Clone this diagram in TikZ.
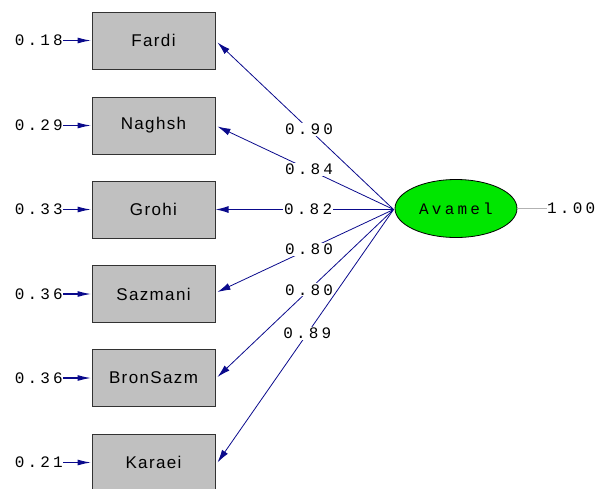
\documentclass[tikz,border=0pt]{standalone}
\usepackage{fontspec}
\usetikzlibrary{arrows.meta,calc,shapes.geometric}
\newfontfamily\numfont[LetterSpace=20]{Liberation Mono}
\newfontfamily\boxfont[LetterSpace=8]{Liberation Sans}
\definecolor{pathblue}{RGB}{10,10,140}
\definecolor{boxgray}{RGB}{192,192,192}
\definecolor{boxedge}{RGB}{50,50,50}
\definecolor{latgreen}{RGB}{0,230,0}
\tikzset{
  obsbox/.style={draw=boxedge,line width=1pt,fill=boxgray,minimum width=123pt,minimum height=57pt,inner sep=0pt,font=\boxfont\fontsize{17}{17}\selectfont},
  latent/.style={ellipse,draw=black,line width=0.8pt,fill=latgreen,minimum width=122pt,minimum height=58pt,inner sep=0pt,font=\numfont\fontsize{16}{16}\selectfont},
  coef/.style={fill=white,inner sep=1pt,font=\numfont\fontsize{16}{16}\selectfont},
  errlab/.style={inner sep=0pt,anchor=east,font=\numfont\fontsize{16}{16}\selectfont},
  loading/.style={draw=pathblue,line width=0.8pt,-{Latex[length=13pt,width=7pt]}},
  errarrow/.style={draw=pathblue,line width=1.5pt,-{Latex[length=14pt,width=6pt]}}
}
\begin{document}
\begin{tikzpicture}[x=1pt,y=-1pt]
\useasboundingbox (0,0) rectangle (600,488);
\clip (0,0) rectangle (600,488);
\node[obsbox] (fardi) at (153.5,40.5) {Fardi};
\node[obsbox] (naghsh) at (153.5,125.5) {Naghsh};
\node[obsbox] (grohi) at (153.5,209.5) {Grohi};
\node[obsbox] (sazmani) at (153.5,294) {Sazmani};
\node[obsbox] (bron) at (153.5,378) {BronSazm};
\node[obsbox] (karaei) at (153.5,462.5) {Karaei};
\node[latent] (avamel) at (456,208.5) {Avamel};
\node[errlab] (e1) at (63,40.5) {0.18};
\node[errlab] (e2) at (63,125.5) {0.29};
\node[errlab] (e3) at (63,209.5) {0.33};
\node[errlab] (e4) at (63,294) {0.36};
\node[errlab] (e5) at (63,378) {0.36};
\node[errlab] (e6) at (63,462.5) {0.21};
\foreach \e/\b in {e1/fardi,e2/naghsh,e3/grohi,e4/sazmani,e5/bron,e6/karaei}
  \draw[errarrow] (\e.east) -- (\b.west);
\node[errlab,anchor=west] (r) at (547,208.5) {1.00};
\draw[draw=gray!60,line width=1pt] (avamel.east) -- (r.west);
\coordinate (src) at ($(avamel.west)+(-1,1)$);
\draw[loading] (src) -- node[coef,pos=0.48] {0.90} ($(fardi.east)+(2,2)$);
\draw[loading] (src) -- node[coef,pos=0.48] {0.84} ($(naghsh.east)+(2,1)$);
\draw[loading,line width=1.3pt] (src) -- node[coef,pos=0.48] {0.82} (grohi.east);
\draw[loading] (src) -- node[coef,pos=0.48] {0.80} ($(sazmani.east)+(2,-2)$);
\draw[loading] (src) -- node[coef,pos=0.48] {0.80} ($(bron.east)+(2,-1)$);
\draw[loading] (src) -- node[coef,pos=0.49] {0.89} ($(karaei.east)+(2,0)$);
\end{tikzpicture}
\end{document}
